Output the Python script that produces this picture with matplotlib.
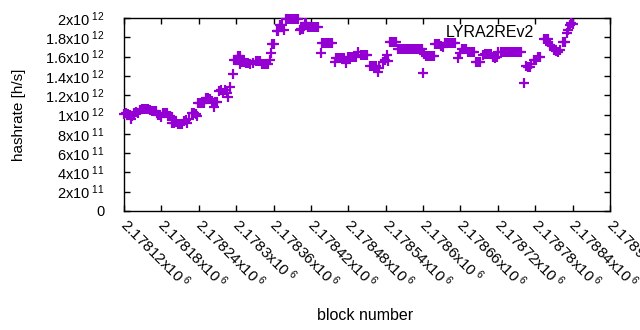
import numpy as np
import matplotlib
matplotlib.use('Agg')
import matplotlib.pyplot as plt
from matplotlib.transforms import ScaledTranslation

plt.rcParams['font.family'] = 'Liberation Sans'
plt.rcParams['mathtext.fontset'] = 'custom'
plt.rcParams['mathtext.rm'] = 'Liberation Sans'
plt.rcParams['mathtext.it'] = 'Liberation Sans'

# block numbers (offset from 2178000) and hashrate in units of 1e12 h/s
blocks = [120, 123, 126, 130, 131, 133, 136, 139, 142, 146, 149, 152, 155, 158, 162,
          165, 168, 171, 175, 178, 179, 183, 186, 189, 191, 194, 197, 197, 200, 203,
          207, 210, 213, 216, 219, 221, 224, 229, 232, 235, 237, 239, 242, 245, 248,
          252, 255, 258, 261, 264, 266, 269, 272, 276, 279, 282, 285, 287, 290, 295,
          296, 300, 303, 306, 306, 309, 312, 316, 319, 322, 327, 332, 335, 338, 341,
          345, 348, 351, 354, 356, 357, 361, 365, 367, 370, 373, 377, 380, 383, 386,
          389, 393, 396, 399, 402, 404, 407, 410, 412, 415, 418, 422, 425, 428, 431,
          436, 438, 441, 444, 447, 450, 454, 458, 460, 463, 466, 470, 473, 476, 479,
          482, 486, 489, 492, 495, 500, 503, 507, 510, 515, 518, 521, 524, 527, 529,
          535, 539, 542, 543, 547, 550, 553, 556, 559, 563, 566, 569, 572, 576, 579,
          582, 585, 588, 592, 595, 598, 600, 601, 604, 608, 611, 614, 617, 619, 622,
          625, 628, 632, 635, 638, 641, 645, 648, 651, 656, 659, 662, 665, 669, 672,
          675, 678, 681, 685, 688, 691, 696, 699, 702, 705, 709, 713, 715, 718, 721,
          725, 728, 731, 734, 738, 741, 744, 747, 750, 754, 757, 762, 765, 768, 771,
          774, 778, 781, 784, 787, 794, 797, 800, 803, 807, 810, 813, 816, 819, 824,
          827, 831, 832, 835, 838, 840]
rates = [1.005, 1.016, 1.005, 0.995, 0.953, 0.984, 1.016, 1.026, 1.016, 1.047, 1.052, 1.052, 1.052, 1.052, 1.047,
         1.036, 1.036, 1.036, 0.995, 0.995, 0.974, 1.016, 1.016, 1.016, 0.984, 0.984, 0.974, 0.915, 0.912, 0.922,
         0.902, 0.902, 0.902, 0.933, 0.943, 0.912, 0.953, 1.016, 1.016, 1.005, 0.984, 1.119, 1.119, 1.119, 1.119,
         1.171, 1.171, 1.161, 1.140, 1.078, 1.130, 1.130, 1.244, 1.254, 1.223, 1.254, 1.223, 1.181, 1.285, 1.420,
         1.565, 1.565, 1.606, 1.606, 1.523, 1.544, 1.544, 1.534, 1.534, 1.523, 1.534, 1.554, 1.554, 1.554, 1.523,
         1.523, 1.523, 1.523, 1.565, 1.637, 1.731, 1.731, 1.865, 1.865, 1.927, 1.927, 1.876, 1.990, 1.990, 1.990,
         1.990, 1.990, 1.990, 1.990, 1.876, 1.886, 1.886, 1.948, 1.948, 1.907, 1.907, 1.907, 1.907, 1.907, 1.907,
         1.637, 1.741, 1.741, 1.741, 1.741, 1.741, 1.741, 1.544, 1.585, 1.585, 1.585, 1.585, 1.585, 1.534, 1.596,
         1.596, 1.596, 1.596, 1.596, 1.648, 1.617, 1.617, 1.617, 1.617, 1.503, 1.503, 1.503, 1.503, 1.440, 1.482,
         1.544, 1.565, 1.617, 1.554, 1.751, 1.751, 1.751, 1.751, 1.679, 1.679, 1.679, 1.679, 1.679, 1.679, 1.679,
         1.679, 1.679, 1.679, 1.679, 1.679, 1.679, 1.430, 1.627, 1.606, 1.606, 1.606, 1.606, 1.606, 1.731, 1.731,
         1.731, 1.710, 1.699, 1.741, 1.741, 1.741, 1.741, 1.741, 1.741, 1.585, 1.637, 1.679, 1.679, 1.679, 1.648,
         1.648, 1.648, 1.648, 1.544, 1.544, 1.544, 1.617, 1.627, 1.627, 1.627, 1.627, 1.596, 1.585, 1.596, 1.648,
         1.648, 1.648, 1.648, 1.648, 1.648, 1.648, 1.648, 1.648, 1.648, 1.648, 1.648, 1.326, 1.503, 1.492, 1.492,
         1.523, 1.565, 1.565, 1.596, 1.596, 1.782, 1.782, 1.782, 1.720, 1.710, 1.668, 1.658, 1.648, 1.668, 1.751,
         1.751, 1.845, 1.876, 1.927, 1.948, 1.938]

xticks = [2178120, 2178180, 2178240, 2178300, 2178360, 2178420, 2178480,
          2178540, 2178600, 2178660, 2178720, 2178780, 2178840, 2178900]
xticklabels = ['2.17812', '2.17818', '2.17824', '2.1783', '2.17836', '2.17842', '2.17848',
               '2.17854', '2.1786', '2.17866', '2.17872', '2.17878', '2.17884', '2.1789']
yticks = [0, 2e11, 4e11, 6e11, 8e11, 1e12, 1.2e12, 1.4e12, 1.6e12, 1.8e12, 2e12]
yticklabels = ['0', '2', '4', '6', '8', '1', '1.2', '1.4', '1.6', '1.8', '2']
yexps = ['', '11', '11', '11', '11', '12', '12', '12', '12', '12', '12']

x = 2178000 + np.array(blocks)
y = np.array(rates) * 1e12

fig = plt.figure(figsize=(6.4, 3.3), dpi=100)
ax = fig.add_axes([124/640, 1 - 211/330, 486/640, 193/330])

ax.plot(x, y, linestyle='none', marker='+', markersize=7, markeredgewidth=1.6,
        color='#9400d3', clip_on=False, zorder=3)

ax.set_xlim(2178120, 2178900)
ax.set_ylim(0, 2e12)

ax.tick_params(direction='in', length=4, width=1, top=True, right=True)
ax.tick_params(axis='y', pad=14)
ax.tick_params(axis='x', pad=3)

ax.set_xticks(xticks)
ax.set_xticklabels([s + r'x10$^{\ 6}$' for s in xticklabels], rotation=-45,
                   ha='left', va='top', rotation_mode='anchor', fontsize=11)
ax.set_yticks(yticks)
ax.set_yticklabels([s + (r'x10$^{\ ' + e + '}$' if e else '') for s, e in zip(yticklabels, yexps)],
                   fontsize=10.5)

# nudge rotated labels so the first glyph starts at the tick, like gnuplot
shift = ScaledTranslation(6/100, 0, fig.dpi_scale_trans)
for lab in ax.get_xticklabels():
    lab.set_transform(lab.get_transform() + shift)

for sp in ax.spines.values():
    sp.set_linewidth(1)

ax.set_xlabel('block number', fontsize=11.5)
ax.set_ylabel('hashrate [h/s]', fontsize=11)
ax.xaxis.set_label_coords(0.496, -0.505)
ax.yaxis.set_label_coords(-0.202, 0.5)
ax.text(0.844, 0.927, 'LYRA2REv2', transform=ax.transAxes, ha='right', va='center',
        fontsize=11.5)

fig.savefig('out.png', dpi=100)
